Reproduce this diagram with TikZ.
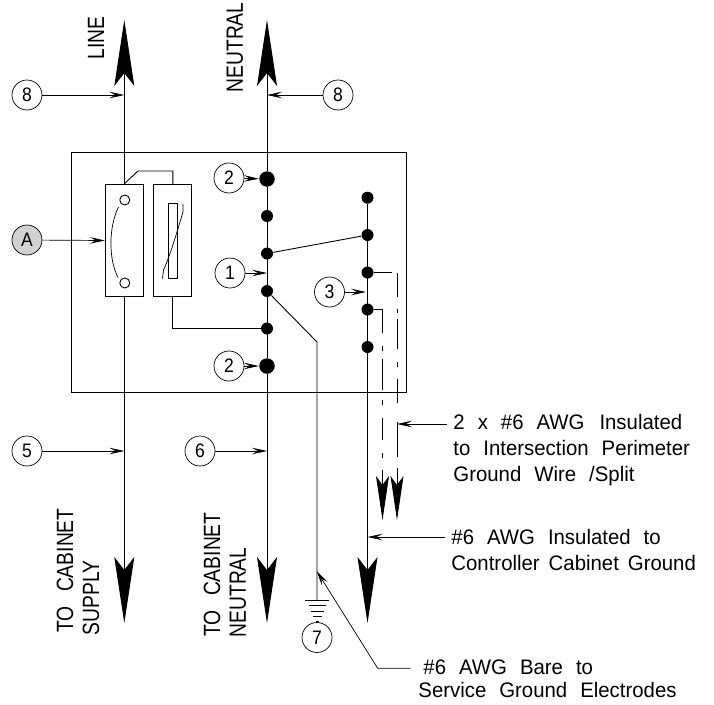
\documentclass[tikz,border=0pt]{standalone}
\usepackage{fontspec}
\usetikzlibrary{arrows.meta}
\setmainfont{Liberation Sans}
\newfontfamily\labelfont[FakeStretch=0.97]{Liberation Sans}
\newfontfamily\sidefont[FakeStretch=0.82]{Liberation Sans}
\newfontfamily\numfont[FakeStretch=0.9]{Liberation Sans}
\newcommand\txtstyle{\labelfont\fontsize{21}{26}\selectfont\spaceskip=13pt\relax}
\newcommand\sidestyle{\sidefont\fontsize{23.5}{23.5}\selectfont\spaceskip=14.5pt\relax}
\begin{document}
\begin{tikzpicture}[x=1pt,y=-1pt,line width=0.9pt,
  callout/.style={circle,draw,inner sep=0pt,minimum size=30pt,line width=0.7pt,font=\numfont\fontsize{19.5}{19.5}\selectfont},
  smalldot/.style={circle,fill=black,inner sep=0pt,minimum size=12pt},
  bigdot/.style={circle,fill=black,inner sep=0pt,minimum size=15.5pt},
  device/.style={rectangle,draw,inner sep=0pt,minimum width=38pt,minimum height=112.5pt},
  leader/.style={line width=0.7pt,-{Stealth[length=15pt,width=6.5pt,inset=6pt]}},
  wirearrow/.style={-{Stealth[length=66pt,width=20pt,inset=13pt]}},
  splitarrow/.style={-{Stealth[length=44pt,width=13pt,inset=9pt]}},
  txt/.style={anchor=west,inner sep=0pt,font=\txtstyle,align=left},
  side/.style={rotate=90,inner sep=0pt,font=\sidestyle,anchor=east},
  dashwire/.style={line width=0.8pt}]
\useasboundingbox (0,0) rectangle (714,704);
% enclosure
\node[rectangle,draw,inner sep=0pt,minimum width=334.5pt,minimum height=240pt] (encl) at (238.75,272) {};
% devices
\node[device] (mov) at (124.3,240.5) {};
\node[device] (fuse) at (172.8,240.5) {};
\node[draw,inner sep=0pt,minimum width=9.4pt,minimum height=75pt] (fuseel) at (173,240.8) {};
\node[circle,draw,inner sep=0pt,minimum size=10pt] (ta) at (124.8,200) {};
\node[circle,draw,inner sep=0pt,minimum size=10pt] (tb) at (124.8,283) {};
\draw[line width=0.7pt] (118.5,207) .. controls (109,226) and (108,258) .. (118,277.5);
\draw[line width=0.7pt] (183,204) -- (183,212) .. controls (177,232) and (170,256) .. (163.5,270) -- (162.5,278.5);
% terminal coordinates
\coordinate (lineTop) at (124.3,20);
\coordinate (lineBot) at (124.3,623);
\coordinate (neuTop) at (267,20);
\coordinate (neuBot) at (267,623);
\coordinate (gndBot) at (367.5,623);
% neutral bus dots
\node[bigdot] (n1) at (267,179) {};
\node[smalldot] (n2) at (267,216) {};
\node[smalldot] (n3) at (267,253.5) {};
\node[smalldot] (n4) at (267,291) {};
\node[smalldot] (n5) at (267,328.5) {};
\node[bigdot] (n6) at (267,366) {};
% ground bus dots
\node[smalldot] (g1) at (367.5,197.7) {};
\node[smalldot] (g2) at (367.5,235) {};
\node[smalldot] (g3) at (367.5,272.5) {};
\node[smalldot] (g4) at (367.5,309.5) {};
\node[smalldot] (g5) at (367.5,347) {};
% wires
\draw[wirearrow] (mov.north) -- (lineTop);
\draw[wirearrow] (mov.south) -- (lineBot);
\draw[wirearrow] (n1) -- (neuTop);
\draw[wirearrow] (n6) -- (neuBot);
\draw (n1) -- (n6);
\draw[wirearrow] (g1) -- (gndBot);
\draw (mov.north) -- (138,171) -- (fuse.north |- 0,171) -- (fuse.north);
\draw (fuse.south) |- (n5);
\draw (n3) -- (g2);
% bare ground
\coordinate (gbend) at (317,342);
\coordinate (gtop) at (317,600);
\draw (n4) -- (gbend) -- (gtop);
\draw[line width=0.8pt] (305,600) -- (329,600) (308.5,605) -- (326,605) (311,611) -- (323.5,611) (313,616) -- (321.5,616) (316,621) -- (318.5,621);
% split wires
\coordinate (s1) at (397,272.5);
\coordinate (s2) at (382.5,309.5);
\coordinate (s1tip) at (397,520);
\coordinate (s2tip) at (382.5,520);
\draw[dashwire] (g3) -- (391.5,272.5);
\draw[dashwire] (s1) -- (397,296.7) (397,309) -- (397,313) (397,319) -- (397,349) (397,362) -- (397,367) (397,379) -- (397,403) (397,421.7) -- (397,456.7);
\draw[dashwire,splitarrow] (397,468) -- (s1tip);
\draw[dashwire] (g4) -- (s2) -- (382.5,333) (382.5,345.7) -- (382.5,351) (382.5,359) -- (382.5,390) (382.5,400) -- (382.5,405) (382.5,418) -- (382.5,440) (382.5,453) -- (382.5,458);
\draw[dashwire,splitarrow] (382.5,470) -- (s2tip);
% callouts
\node[callout] (c8a) at (27,95) {8};
\node[callout] (c8b) at (338,95) {8};
\node[callout] (c2a) at (229,178) {2};
\node[callout] (c2b) at (229,366) {2};
\node[callout] (c1) at (230,273) {1};
\node[callout] (c3) at (329.5,292) {3};
\node[callout,fill=black!18] (cA) at (27,240) {A};
\node[callout] (c5) at (27,451) {5};
\node[callout] (c6) at (200,451) {6};
\node[callout] (c7) at (317,637.5) {7};
\coordinate (t8a) at (124.3,95);
\coordinate (t8b) at (267,95);
\coordinate (t1) at (267,273);
\coordinate (t3) at (366,292);
\coordinate (t5) at (124.3,451);
\coordinate (t6) at (267,451);
\coordinate (tS) at (397,424);
\coordinate (tC) at (367.5,537);
\coordinate (tB) at (316.7,571);
\coordinate (bS) at (447,424);
\coordinate (bC) at (445,537);
\coordinate (bB) at (410.7,668.3);
\coordinate (kB) at (377.7,668.3);
\draw[leader] (c8a) -- (t8a);
\draw[leader] (c8b) -- (t8b);
\draw[leader] (c1) -- (t1);
\draw[leader] (c3) -- (t3);
\draw[leader] (c5) -- (t5);
\draw[leader] (c6) -- (t6);
\draw[leader] (cA) -- (mov.west);
\draw[leader] (c2a) -- (n1);
\draw[leader] (c2b) -- (n6);
\draw[leader] (bS) -- (tS);
\draw[leader] (bC) -- (tC);
\draw[leader] (bB) -- (kB) -- (tB);
% texts
\node[side] (tLine) at (96,16) {LINE};
\node[side] (tNeu) at (235,2) {NEUTRAL};
\node[side] (tTo1) at (65,508) {TO CABINET};
\node[side] (tSup) at (91,560) {SUPPLY};
\node[side] (tTo2) at (212,512) {TO CABINET};
\node[side] (tNeu2) at (238,547) {NEUTRAL};
\node[txt] (l1) at (453,450) {2 x \#6 AWG\hspace{2pt} Insulated\\to Intersection Perimeter\\Ground Wire /Split};
\node[txt] (l2) at (451,549.5) {\#6 AWG Insulated to\\Controller\hspace{-4pt} Cabinet\hspace{-4pt} Ground};
\node[txt] (l3) at (423,667) {\#6 AWG Bare to};
\node[txt] (l4) at (418,690) {Service Ground Electrodes};
\end{tikzpicture}
\end{document}
